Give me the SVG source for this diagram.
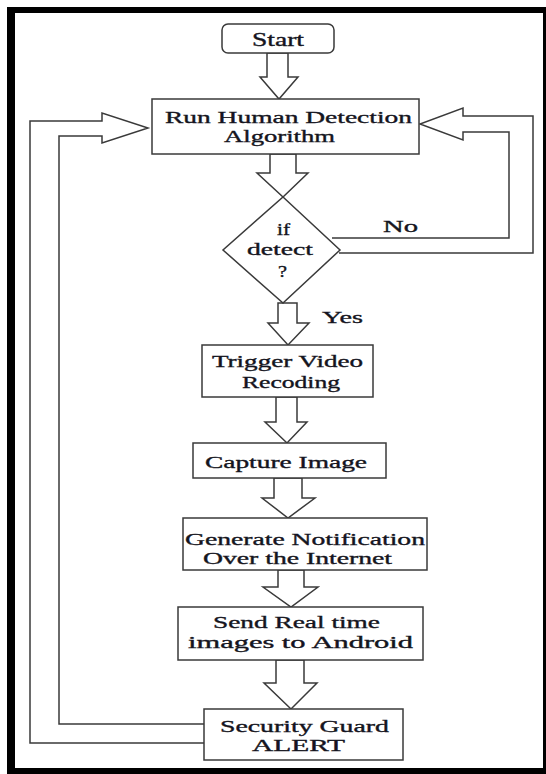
<svg xmlns="http://www.w3.org/2000/svg" width="546" height="774" viewBox="0 0 546 774">
  <style>
    .box { fill: #ffffff; stroke: #3a3a3a; stroke-width: 1.5; }
    .blk { fill: #ffffff; stroke: #3a3a3a; stroke-width: 1.5; stroke-linejoin: miter; }
    .loop { fill: none; stroke: #3a3a3a; stroke-width: 1.5; stroke-linejoin: miter; }
    .t { font-family: "Liberation Serif", "Times New Roman", serif; font-size: 17px; fill: #141420; stroke: #141420; stroke-width: 0.35; }
    .frame { fill: #000000; }
  </style>

  <rect width="546" height="774" fill="#ffffff"/>

  <!-- heavy outer frame -->
  <g id="frame">
    <rect class="frame" x="7" y="7" width="8" height="767"/>
    <rect class="frame" x="7" y="7" width="539" height="6"/>
    <rect class="frame" x="543" y="7" width="3" height="767"/>
    <rect class="frame" x="7" y="768" width="539" height="6"/>
  </g>

  <!-- connectors: block arrows and feedback loops -->
  <g id="connectors">
    <polygon class="blk" points="267,53 267,77 260,77 279,99 298,77 288,77 288,53"/>
    <polygon class="blk" points="270,154 270,173 257,173 283,197 308,173 296,173 296,154"/>
    <polygon class="blk" points="278,303 278,323 268,323 288,345 309,323 297,323 297,303"/>
    <polygon class="blk" points="276,397 276,422 265,422 287,443 307,422 297,422 297,397"/>
    <polygon class="blk" points="274,478 274,498 262,498 288,518 315,498 302,498 302,478"/>
    <polygon class="blk" points="278,570 278,587 263,587 291,607 318,587 304,587 304,570"/>
    <polygon class="blk" points="276,660 276,683 264,683 291,709 317,683 304,683 304,660"/>

    <!-- return loop from the alert back to detection -->
    <path class="loop" d="M208,743 L30,743 L30,121 L102,121 L102,113 L148,128 L102,143 L102,136 L59,136 L59,724 L208,724"/>
    <!-- "No" branch back to detection -->
    <path class="loop" d="M332,238 L509,238 L509,132 L463,132 L463,140 L420,124 L463,108 L463,116 L533,116 L533,253 L339,253"/>

    <text class="t" x="383" y="232" textLength="35" lengthAdjust="spacingAndGlyphs">No</text>
    <text class="t" x="322" y="323" textLength="41" lengthAdjust="spacingAndGlyphs">Yes</text>
  </g>

  <g id="start">
    <rect class="box" x="222" y="24" width="112" height="29" rx="6" ry="6"/>
    <text class="t" x="252" y="46" style="font-size:18px" textLength="52" lengthAdjust="spacingAndGlyphs">Start</text>
  </g>

  <g id="detect-run">
    <rect class="box" x="152" y="99" width="267" height="55"/>
    <text class="t" x="165" y="123" textLength="247" lengthAdjust="spacingAndGlyphs">Run Human Detection</text>
    <text class="t" x="224" y="142" textLength="111" lengthAdjust="spacingAndGlyphs">Algorithm</text>
  </g>

  <g id="decision">
    <polygon class="box" points="283,197 340,250 283,303 223,250"/>
    <text class="t" x="277" y="235" textLength="13" lengthAdjust="spacingAndGlyphs">if</text>
    <text class="t" x="247" y="255" textLength="66" lengthAdjust="spacingAndGlyphs">detect</text>
    <text class="t" x="278" y="277" textLength="9" lengthAdjust="spacingAndGlyphs">?</text>
  </g>

  <g id="record">
    <rect class="box" x="202" y="345" width="171" height="52"/>
    <text class="t" x="212" y="367" textLength="151" lengthAdjust="spacingAndGlyphs">Trigger Video</text>
    <text class="t" x="242" y="388" textLength="98" lengthAdjust="spacingAndGlyphs">Recoding</text>
  </g>

  <g id="capture">
    <rect class="box" x="193" y="443" width="193" height="35"/>
    <text class="t" x="205" y="468" textLength="162" lengthAdjust="spacingAndGlyphs">Capture Image</text>
  </g>

  <g id="notify">
    <rect class="box" x="183" y="518" width="244" height="52"/>
    <text class="t" x="185" y="545" textLength="240" lengthAdjust="spacingAndGlyphs">Generate Notification</text>
    <text class="t" x="203" y="564" textLength="189" lengthAdjust="spacingAndGlyphs">Over the Internet</text>
  </g>

  <g id="send">
    <rect class="box" x="178" y="607" width="245" height="53"/>
    <text class="t" x="213" y="628" textLength="167" lengthAdjust="spacingAndGlyphs">Send Real time</text>
    <text class="t" x="188" y="648" textLength="225" lengthAdjust="spacingAndGlyphs">images to Android</text>
  </g>

  <g id="alert">
    <rect class="box" x="204" y="709" width="199" height="51"/>
    <text class="t" x="220" y="732" textLength="169" lengthAdjust="spacingAndGlyphs">Security Guard</text>
    <text class="t" x="252" y="751" textLength="93" lengthAdjust="spacingAndGlyphs">ALERT</text>
  </g>
</svg>
